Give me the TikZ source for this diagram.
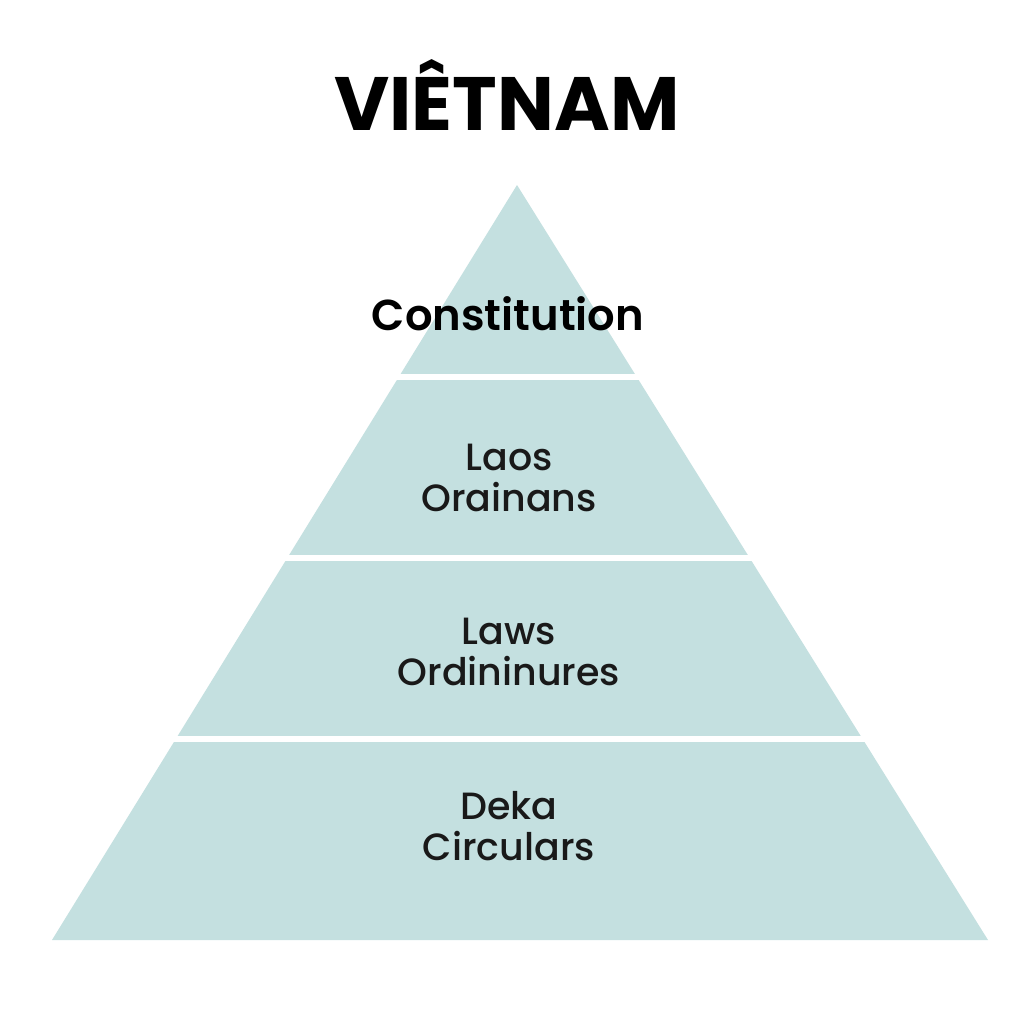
\documentclass[tikz,border=0pt]{standalone}
\usepackage{fontspec}
\setmainfont{Poppins}
\newfontfamily\popmed{Poppins Medium}
\newfontfamily\popsemi{Poppins SemiBold}
\definecolor{pyr}{HTML}{C4E0E0}
\begin{document}
\begin{tikzpicture}[x=0.01cm,y=-0.01cm,
  lbl/.style={font=\popsemi\fontsize{12.3}{14}\selectfont, text=black, align=center},
  tier/.style={font=\popmed\fontsize{10.8}{11.6}\selectfont, text=black!90, align=center},
  sep/.style={white, line width=1.5pt}]
\fill[white] (0,0) rectangle (1024,1024);
\useasboundingbox (0,0) rectangle (1024,1024);
\coordinate (apex) at (517,185);
\coordinate (bl) at (52,940);
\coordinate (br) at (988,940);
\fill[pyr] (apex) -- (br) -- (bl) -- cycle;
\draw[sep] (150,377) -- (880,377);
\draw[sep] (150,558) -- (880,558);
\draw[sep] (100,739) -- (930,739);
\node[font=\fontsize{21.5}{25}\selectfont\bfseries] (title) at (507,95) {VIÊTNAM};
\node[lbl] (c) at (508,314) {Constitution};
\node[tier] (t1) at (509,478) {Laos\\Orainans};
\node[tier] (t2) at (509,652) {Laws\\Ordininures};
\node[tier] (t3) at (509,826) {Deka\\Circulars};
\end{tikzpicture}
\end{document}
